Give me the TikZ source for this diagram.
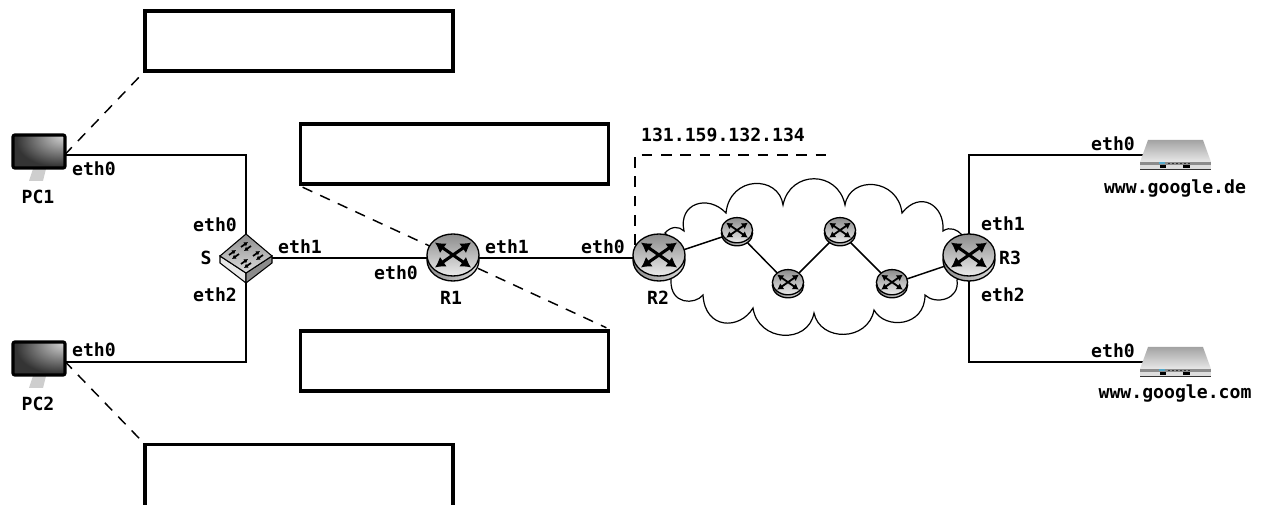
\documentclass[tikz,border=0pt]{standalone}
\usepackage{fontspec}
\setmainfont{DejaVu Sans Mono}
\usetikzlibrary{arrows.meta,positioning,calc}
\definecolor{GrisOscuro}{RGB}{52,52,52}
\definecolor{GrisMedio}{RGB}{140,140,140}
\definecolor{GrisClaro}{RGB}{222,222,222}
\pgfdeclareradialshading{pantalla}{\pgfpoint{26bp}{26bp}}{color(0bp)=(GrisClaro); color(18bp)=(GrisMedio); color(38bp)=(GrisOscuro); color(100bp)=(GrisOscuro)}
\tikzset{
  pics/router/.style={code={
    \begin{scope}[scale=#1]
      \draw[line width=1pt, left color=GrisMedio, right color=GrisClaro] (0,2) ellipse [x radius=26, y radius=21];
      \draw[line width=1pt, top color=GrisMedio, bottom color=GrisClaro!60!white] (0,-3) ellipse [x radius=26, y radius=21];
      \draw[line width=#1*2.3pt, {Latex[length=7.5pt,width=9pt,scale=#1]}-{Latex[length=7.5pt,width=9pt,scale=#1]}] (-18,-15.5) -- (18,9.5);
      \draw[line width=#1*2.3pt, {Latex[length=7.5pt,width=9pt,scale=#1]}-{Latex[length=7.5pt,width=9pt,scale=#1]}] (-18,9.5) -- (18,-15.5);
    \end{scope}
  }},
  pics/monitor/.style={code={
    \fill[GrisClaro!80!GrisMedio] (-6,14) -- (7,14) -- (4,26) -- (-10,26) -- cycle;
    \draw[line width=2.4pt, rounded corners=1.5pt, shading=pantalla] (-26,-20) rectangle (26,13);
  }},
  pics/server/.style={code={
    \shade[top color=GrisMedio!80!white, bottom color=GrisClaro!70!white] (-27,-15) -- (28,-15) -- (36,7) -- (-35,7) -- cycle;
    \fill[GrisMedio] (-35,7) rectangle (36,10);
    \fill[GrisClaro] (-35,10) rectangle (36,15);
    \fill[GrisOscuro] (-35,14) rectangle (36,15);
    \fill[black] (-15,10) rectangle (-9,13);
    \fill[black] (8,10) rectangle (15,13);
    \fill[cyan!60!gray] (-16,7.5) rectangle (-10,9.5);
    \foreach \ax in {-7,-3,1,5,9,13} {
      \fill[GrisOscuro] (\ax,8) rectangle (\ax+2,9.5);
    }
  }},
  pics/hub/.style={code={
    \draw[line width=.8pt, fill=GrisClaro!70!white] (-26,-2) -- (0,15) -- (0,25) -- (-26,5) -- cycle;
    \draw[line width=.8pt, fill=GrisMedio] (26,-2) -- (0,15) -- (0,25) -- (26,5) -- cycle;
    \draw[line width=.8pt, top color=GrisMedio, bottom color=GrisClaro] (0,-24) -- (26,-2) -- (0,15) -- (-26,-2) -- cycle;
    \foreach \ax/\ay in {-12/-4, 0/-12, 12/-3, 0/5} {
      \draw[line width=1.3pt, -{Latex[length=3pt,width=3.6pt]}] (\ax-5,\ay+1) -- ++(7,-5);
      \draw[line width=1.3pt, {Latex[length=3pt,width=3.6pt]}-] (\ax-2,\ay+5) -- ++(7,-5);
    }
  }}
}
\begin{document}
\begin{tikzpicture}[
    x=0.75pt, y=-0.75pt,
    wire/.style={line width=1.1pt},
    dash line/.style={line width=1.1pt, dash pattern=on 8pt off 6.5pt},
    cloudline/.style={line width=.9pt, fill=white},
    dev/.style={inner sep=0pt, minimum size=0pt},
    box/.style={draw, line width=2.3pt, fill=white, minimum width=231pt, minimum height=45pt},
    lbl/.style={font=\fontsize{13.6pt}{16pt}\bfseries, inner sep=0pt}
  ]
    \useasboundingbox (0,0) rectangle (1263,505);

    % devices
    \node[dev] (pc1) at (39,155) {};
    \node[dev] (pc2) at (39,362) {};
    \node[dev] (s) at (246,258) {};
    \node[dev] (r1) at (453,258) {};
    \node[dev] (r2) at (659,258) {};
    \node[dev] (r3) at (969,258) {};
    \node[dev] (n1) at (737,232) {};
    \node[dev] (n2) at (788,284) {};
    \node[dev] (n3) at (840,232) {};
    \node[dev] (n4) at (892,284) {};
    \node[dev] (srv1) at (1175,155) {};
    \node[dev] (srv2) at (1175,362) {};
    \coordinate (c1) at (64.5,155);
    \coordinate (c2) at (64.5,361);
    \coordinate (d1) at (635,245);
    \coordinate (d2) at (827,155);

    % empty boxes
    \node[box] (b1) at (299,41) {};
    \node[box] (b2) at (454.5,154) {};
    \node[box] (b3) at (454.5,361) {};
    \node[box, minimum height=52pt] (b4) at (299,479) {};

    % cloud
    \draw[cloudline] (672,240) -- (665,233)
      .. controls (671,226) and (679,226) .. (684,231)
      .. controls (678,203) and (708,194) .. (726,213)
      .. controls (730,175) and (779,175) .. (783,205)
      .. controls (790,170) and (838,170) .. (845,205)
      .. controls (850,175) and (898,178) .. (902,213)
      .. controls (920,190) and (945,205) .. (943,231)
      .. controls (950,226) and (958,230) .. (962,235)
      -- (960,275) -- (957,280)
      .. controls (960,300) and (935,305) .. (925,295)
      .. controls (925,327) and (885,330) .. (874,310)
      .. controls (868,342) and (820,342) .. (814,313)
      .. controls (808,345) and (758,342) .. (753,308)
      .. controls (740,330) and (705,330) .. (703,295)
      .. controls (695,305) and (670,305) .. (671,280)
      -- cycle;

    % connectors
    \draw[wire] (pc1) -| (s);
    \draw[wire] (pc2) -| (s);
    \draw[wire] (s) -- (r1);
    \draw[wire] (r1) -- (r2);
    \draw[wire] (r2) -- (n1);
    \draw[wire] (n1) -- (n2);
    \draw[wire] (n2) -- (n3);
    \draw[wire] (n3) -- (n4);
    \draw[wire] (n4) -- (r3);
    \draw[wire] (r3) |- (srv1);
    \draw[wire] (r3) |- (srv2);

    \draw[dash line] (c1) -- (b1.south west);
    \draw[dash line] (c2) -- (b4.north west);
    \draw[dash line, shorten <=3pt, shorten >=3pt] (b2.south west) -- (b3.north east);
    \draw[dash line] (d1) |- (d2);

    % icons
    \pic at (pc1) {monitor};
    \pic at (pc2) {monitor};
    \pic at (s) {hub};
    \pic at (r1) {router=1};
    \pic at (r2) {router=1};
    \pic at (r3) {router=1};
    \pic at (n1) {router=0.6};
    \pic at (n2) {router=0.6};
    \pic at (n3) {router=0.6};
    \pic at (n4) {router=0.6};
    \pic at (srv1) {server};
    \pic at (srv2) {server};

    % labels
    \node[lbl] (lpc1) at (38,197) {PC1};
    \node[lbl] (lpc2) at (38,404) {PC2};
    \node[lbl] (l1) at (94,169) {eth0};
    \node[lbl] (l2) at (94,350) {eth0};
    \node[lbl] (l3) at (215,225) {eth0};
    \node[lbl] (ls) at (206,258) {S};
    \node[lbl] (l4) at (215,295) {eth2};
    \node[lbl] (l5) at (300,247) {eth1};
    \node[lbl] (l6) at (396,273) {eth0};
    \node[lbl] (lr1) at (451,298) {R1};
    \node[lbl] (l7) at (507,247) {eth1};
    \node[lbl] (l8) at (603,247) {eth0};
    \node[lbl] (lr2) at (658,298) {R2};
    \node[lbl] (lip) at (723,135) {131.159.132.134};
    \node[lbl] (l9) at (1003,224) {eth1};
    \node[lbl] (lr3) at (1010,258) {R3};
    \node[lbl] (l10) at (1003,295) {eth2};
    \node[lbl] (l11) at (1113,144) {eth0};
    \node[lbl] (l12) at (1113,351) {eth0};
    \node[lbl] (lsrv1) at (1175,188) {www.google.de};
    \node[lbl] (lsrv2) at (1175,393) {www.google.com};
  \end{tikzpicture}
\end{document}
